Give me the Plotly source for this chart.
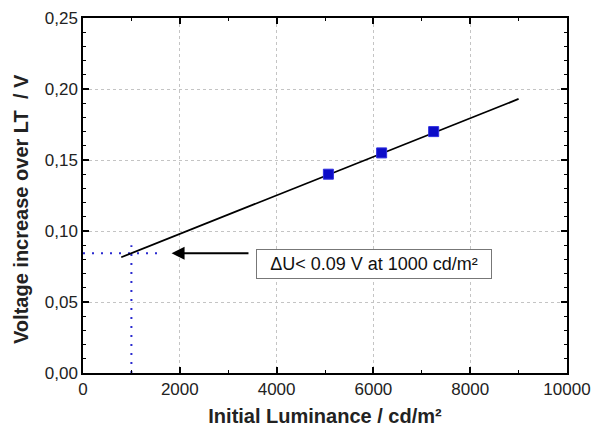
import plotly.graph_objects as go

# Data
lum_points = [5070, 6170, 7245]
volt_points = [0.140, 0.155, 0.170]

fit_x = [790, 9000]
fit_y = [0.0815, 0.193]

ref_lum = 1000
ref_volt = 0.0843
h_guide_x = [0, 1630]
v_guide_y = [0, 0.090]

arrow_tail_x = 3450
arrow_tip_x = 1830

box_text = "ΔU< 0.09 V at 1000 cd/m²"
box_x = 6010
box_y = 0.0768

x_title = "Initial Luminance / cd/m²"
y_title = "Voltage increase over LT  / V"

font_family = "Liberation Sans, Arial, sans-serif"

fig = go.Figure()

fig.add_trace(go.Scatter(x=h_guide_x, y=[ref_volt, ref_volt], mode="lines",
                         line=dict(color="#2a2ad0", width=2, dash="2px,7px"),
                         hoverinfo="skip", showlegend=False))
fig.add_trace(go.Scatter(x=[ref_lum, ref_lum], y=v_guide_y, mode="lines",
                         line=dict(color="#2a2ad0", width=2, dash="2px,7px"),
                         hoverinfo="skip", showlegend=False))
fig.add_trace(go.Scatter(x=fit_x, y=fit_y, mode="lines",
                         line=dict(color="black", width=1.8),
                         showlegend=False))
fig.add_trace(go.Scatter(x=lum_points, y=volt_points, mode="markers",
                         marker=dict(symbol="square", size=10, color="#0c0cc8",
                                     line=dict(color="#3030e0", width=1)),
                         showlegend=False))

fig.add_annotation(x=arrow_tip_x, y=ref_volt, ax=arrow_tail_x, ay=ref_volt,
                   xref="x", yref="y", axref="x", ayref="y", text="",
                   showarrow=True, arrowhead=2, arrowsize=1.3, arrowwidth=2,
                   arrowcolor="black")
fig.add_annotation(x=box_x, y=box_y, xref="x", yref="y", text=box_text,
                   showarrow=False, font=dict(family=font_family, size=18, color="#111"),
                   bordercolor="#777", borderwidth=1, borderpad=4, bgcolor="white",
                   width=226)

# y-axis title as rotated annotation (positioned like the reference)
fig.add_annotation(x=0, xref="paper", xanchor="center", xshift=-62,
                   y=0.462, yref="paper", yanchor="middle",
                   text=y_title, textangle=-90, showarrow=False,
                   font=dict(family=font_family, size=20, color="#222", weight="bold"))

axis_common = dict(
    showline=True, linecolor="black", linewidth=1.5, mirror="allticks",
    ticks="inside", ticklen=6, tickwidth=1.5, tickcolor="black",
    showgrid=True, gridcolor="#c4c4c4", griddash="dot", gridwidth=1,
    zeroline=False, automargin=False,
    tickfont=dict(family=font_family, size=17, color="#222"),
)

fig.update_xaxes(range=[0, 10000], dtick=2000, tick0=0, tickformat="d",
                 minor=dict(dtick=1000, ticks="inside", ticklen=3, tickwidth=1.2,
                            tickcolor="black", showgrid=False),
                 title=dict(text=x_title, font=dict(family=font_family, size=20,
                                                     color="#222", weight="bold"),
                            standoff=11),
                 **axis_common)
fig.update_yaxes(range=[0, 0.25], dtick=0.05, tick0=0, tickformat=".2f",
                 minor=dict(dtick=0.01, ticks="inside", ticklen=3, tickwidth=1.2,
                            tickcolor="black", showgrid=False),
                 **axis_common)

fig.update_layout(
    width=591, height=428,
    margin=dict(l=83, r=24, t=18, b=55),
    paper_bgcolor="white", plot_bgcolor="white",
    separators=",.",
    font=dict(family=font_family),
    showlegend=False,
)

fig.write_html("out.html")
